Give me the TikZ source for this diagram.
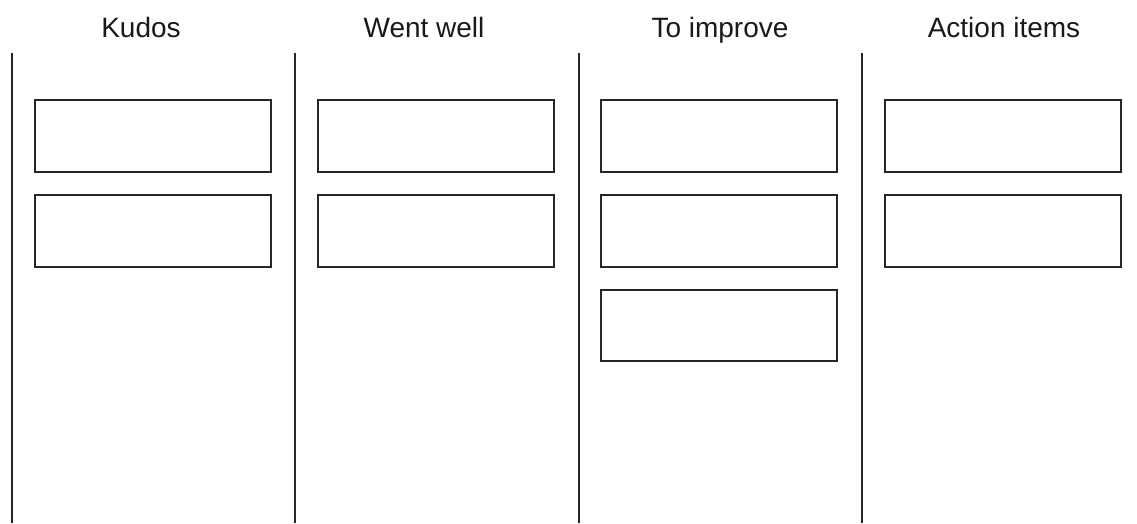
\documentclass[tikz,border=0pt]{standalone}
\usepackage{fontspec}
\setmainfont{Liberation Sans}
\begin{document}
\begin{tikzpicture}[x=1pt,y=-1pt,
  divider/.style={draw=black!85,line width=2pt},
  card/.style={draw=black!85,line width=2pt,fill=white},
  heading/.style={anchor=base,inner sep=0pt,font=\fontsize{28}{32}\selectfont,text=black!90}]
\useasboundingbox (0,0) rectangle (1137,523);
% column headings
\node[heading] (h1) at (141,37.5) {Kudos};
\node[heading] (h2) at (424,37.5) {Went well};
\node[heading] (h3) at (720,37.5) {To improve};
\node[heading] (h4) at (1004,37.5) {Action items};
% column dividers
\foreach \x/\n in {11.5/1,295/2,578.5/3,862/4}{
  \coordinate (t\n) at (\x,53);
  \coordinate (b\n) at (\x,523);
  \draw[divider] (t\n) -- (b\n);
}
% cards
\foreach \x/\c in {35/1,318/2,601/3,885/4}{
  \draw[card] (\x,100) rectangle ++(236,72);
  \draw[card] (\x,195) rectangle ++(236,72);
}
\draw[card] (601,290) rectangle ++(236,71);
\end{tikzpicture}
\end{document}
